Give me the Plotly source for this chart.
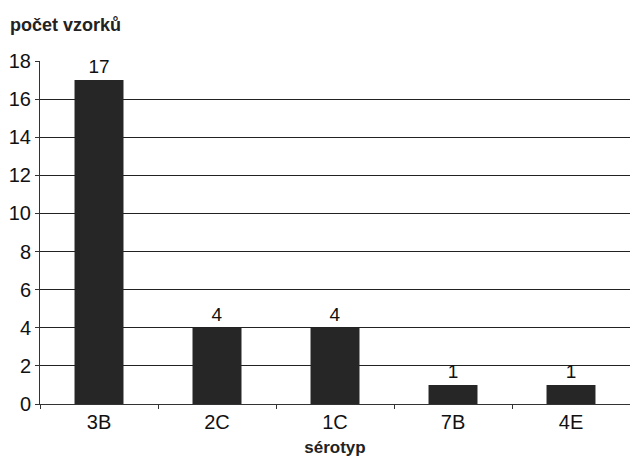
import plotly.graph_objects as go

# Serotype counts
serotypes = ["3B", "2C", "1C", "7B", "4E"]
counts = [17, 4, 4, 1, 1]
y_ticks = [0, 2, 4, 6, 8, 10, 12, 14, 16, 18]

FONT = "Liberation Sans, Arial, sans-serif"

fig = go.Figure(
    go.Bar(
        x=serotypes,
        y=counts,
        marker=dict(color="#262626", line=dict(width=0)),
        text=[str(v) for v in counts],
        textposition="outside",
        textfont=dict(family=FONT, size=19, color="#111"),
        cliponaxis=False,
    )
)

fig.update_layout(
    width=630,
    height=457,
    margin=dict(l=40, r=0, t=61, b=53),
    paper_bgcolor="white",
    plot_bgcolor="white",
    bargap=0.585,
    showlegend=False,
    font=dict(family=FONT, size=20, color="#111"),
    title=dict(
        text="<b>počet vzorků</b>",
        xref="container", yref="container",
        x=10 / 630, xanchor="left",
        y=1 - 25 / 457, yanchor="middle",
        font=dict(family=FONT, size=18, color="#222"),
    ),
)

fig.update_xaxes(
    showline=True, linecolor="#333", linewidth=1,
    ticks="outside", tickson="boundaries", ticklen=4, tickcolor="#333",
    tickfont=dict(family=FONT, size=20, color="#111"),
    title=dict(text="<b>sérotyp</b>", standoff=11,
               font=dict(family=FONT, size=17, color="#222")),
    showgrid=False,
)

fig.update_yaxes(
    range=[0, 18],
    tickvals=y_ticks,
    showline=True, linecolor="#333", linewidth=1,
    ticks="outside", ticklen=4, tickcolor="#333",
    tickfont=dict(family=FONT, size=20, color="#111"),
    showgrid=True, gridcolor="#222", gridwidth=1,
    zeroline=False,
)

fig.write_html("out.html")
